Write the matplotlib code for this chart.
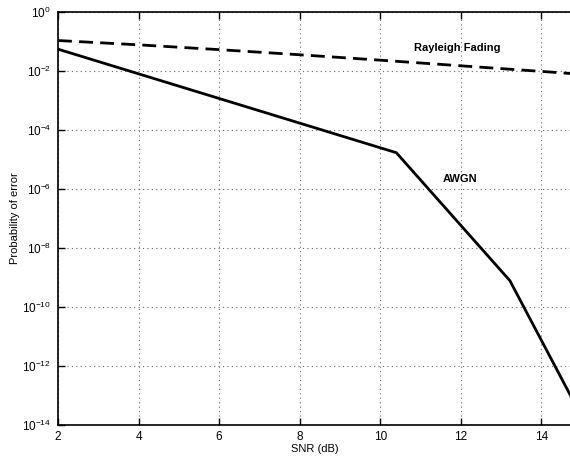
import math
import matplotlib
matplotlib.use("Agg")
import matplotlib.pyplot as plt
from matplotlib.ticker import FixedLocator, FuncFormatter

plt.rcParams['font.family'] = ['Liberation Sans', 'DejaVu Sans']
plt.rcParams['mathtext.fontset'] = 'custom'
plt.rcParams['mathtext.rm'] = 'Liberation Sans'
plt.rcParams['mathtext.it'] = 'Liberation Sans:italic'
plt.rcParams['mathtext.bf'] = 'Liberation Sans:bold'

# SNR (dB) and bit-error probabilities
snr_awgn = [2.0, 10.4, 13.22, 14.74]
pe_awgn = [0.055, 1.7e-5, 7.8e-10, 9.1e-14]

snr_rayleigh = [2, 4, 6, 8, 10, 12, 14, 14.74]
pe_rayleigh = [0.108, 0.0771, 0.0530, 0.0355, 0.0233, 0.0150, 0.0097, 0.0082]

x_ticks = [2, 4, 6, 8, 10, 12, 14]
y_exponents = [0, -2, -4, -6, -8, -10, -12, -14]

fig = plt.figure(figsize=(5.70, 4.58), dpi=100)
ax = fig.add_axes([58 / 570, 1 - 425 / 458, 1 - 58 / 570 + 0.002, (425 - 12) / 458])

ax.plot(snr_awgn, pe_awgn, color='black', linewidth=2.0, solid_joinstyle='miter')
ax.plot(snr_rayleigh, pe_rayleigh, color='black', linewidth=2.0,
        linestyle=(0, (5, 2.6)))

ax.set_yscale('log')
ax.set_xlim(2, 14.74)
ax.set_ylim(1e-14, 1)

ax.xaxis.set_major_locator(FixedLocator(x_ticks))
ax.yaxis.set_major_locator(FixedLocator([10.0 ** e for e in y_exponents]))
ax.yaxis.set_minor_locator(FixedLocator([]))
ax.yaxis.set_major_formatter(FuncFormatter(
    lambda v, p: r'$10^{%d}$' % round(math.log10(v))))

ax.tick_params(axis='both', which='major', direction='in', length=5,
               labelsize=8.5, top=True, right=False, width=1.0)
ax.tick_params(axis='x', pad=4)
ax.tick_params(axis='y', pad=5)

ax.grid(True, which='major', linestyle=(0, (1, 3)), color='#666666', linewidth=0.8)
for s in ['left', 'bottom', 'top']:
    ax.spines[s].set_linewidth(1.2)
ax.spines['right'].set_visible(False)

ax.set_xlabel('SNR (dB)', fontsize=8, labelpad=1)
ax.set_ylabel('Probability of error', fontsize=8, labelpad=1.5)

ax.text(11.9, 0.06, 'Rayleigh Fading', fontsize=8, fontweight='bold',
        ha='center', va='center')
ax.text(11.97, 2.2e-6, 'AWGN', fontsize=8, fontweight='bold',
        ha='center', va='center')

fig.savefig('out.png', dpi=100, facecolor='white')
